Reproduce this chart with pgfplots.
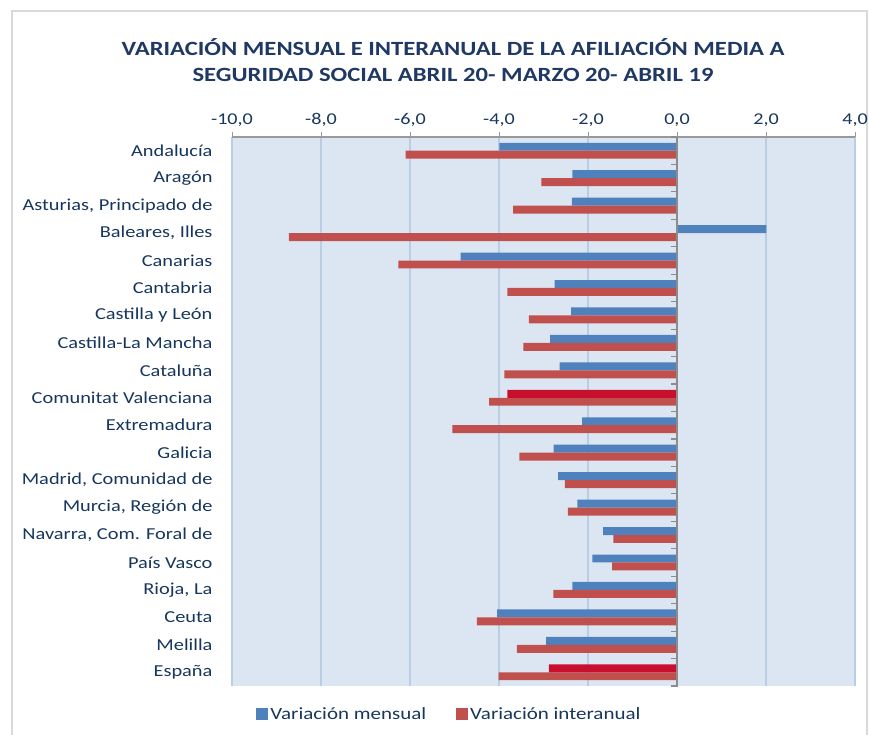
\documentclass[border=0pt]{standalone}
\usepackage{pgfplots}
\pgfplotsset{compat=1.18}
\usepackage{fontspec}
\setmainfont{Carlito}[FakeStretch=1.22]
\definecolor{mblue}{HTML}{4F81BD}
\definecolor{mred}{HTML}{C0504D}
\definecolor{mcrim}{HTML}{C8102E}
\definecolor{bg}{HTML}{DCE6F2}
\definecolor{gridc}{HTML}{B9CDE5}
\definecolor{navy}{HTML}{1F3864}
\definecolor{txt}{HTML}{17365D}
\pgfplotstableread{
y blue red
19 -3.99 -6.10
18 -2.35 -3.05
17 -2.36 -3.68
16 2.01 -8.72
15 -4.86 -6.26
14 -2.75 -3.81
13 -2.38 -3.33
12 -2.85 -3.45
11 -2.64 -3.88
9 -2.13 -5.05
8 -2.77 -3.54
7 -2.67 -2.52
6 -2.24 -2.45
5 -1.66 -1.43
4 -1.90 -1.46
3 -2.35 -2.78
2 -4.04 -4.50
1 -2.94 -3.60
}\datatab
\pgfplotstableread{
y red
10 -4.22
0 -4.01
}\datared
\pgfplotstableread{
y crim
10 -3.81
0 -2.88
}\datacrim
\begin{document}
\begin{tikzpicture}
\useasboundingbox (0pt,0pt) rectangle (869pt,-735pt);
\draw[black!15, line width=1.5pt] (12pt,-735pt) -- (12pt,-11pt) -- (867pt,-11pt) -- (867pt,-735pt);
\node[align=center, font=\bfseries\fontsize{20.2}{26}\selectfont, text=navy] at (453pt,-60pt)
 {VARIACIÓN MENSUAL E INTERANUAL DE LA AFILIACIÓN MEDIA A\\SEGURIDAD SOCIAL ABRIL 20- MARZO 20- ABRIL 19};
\begin{axis}[
  at={(232pt,-137pt)}, anchor=north west,
  scale only axis, width=623pt, height=549pt,
  xbar, bar width=0.29,
  xmin=-10, xmax=4, ymin=-0.5, ymax=19.5,
  axis x line*=top, axis y line*=left,
  y axis line style={draw=none},
  x axis line style={draw=black!40, line width=1.2pt},
  xtick={-10,-8,...,4},
  tick align=outside,
  x tick style={draw=black!40, line width=1pt},
  major tick length=5pt,
  xticklabel={\pgfmathprintnumber[fixed,fixed zerofill,precision=1,use comma,assume math mode=true]{\tick}},
  xticklabel style={font=\fontsize{16.5}{18}\selectfont, text=txt, yshift=2pt},
  ytick={0,...,19},
  yticklabels={España,Melilla,Ceuta,{Rioja, La},País Vasco,{Navarra, Com. Foral de},{Murcia, Región de},{Madrid, Comunidad de},Galicia,Extremadura,Comunitat Valenciana,Cataluña,Castilla-La Mancha,Castilla y León,Cantabria,Canarias,{Baleares, Illes},{Asturias, Principado de},Aragón,Andalucía},
  y tick style={draw=none},
  yticklabel style={font=\fontsize{16.7}{18}\selectfont, text=txt, anchor=east, xshift=-11pt},
  xmajorgrids, grid style={gridc, line width=1.2pt},
  axis background/.style={fill=bg},
  legend style={at={(axis description cs:0.349,-0.051)}, anchor=center, draw=none, fill=none,
    font=\fontsize{17.2}{18}\selectfont, text=txt,
    /tikz/every even column/.append style={column sep=28pt}},
  legend columns=2,
  legend cell align=left,
  legend image code/.code={\fill[#1] (0pt,-5.5pt) rectangle (12pt,6.5pt);},
]
\addplot[fill=mblue, draw=none, bar shift=0.145] table[x=blue, y=y] {\datatab};
\addlegendentry{Variación mensual}
\addplot[fill=mred, draw=none, bar shift=-0.145] table[x=red, y=y] {\datatab};
\addlegendentry{Variación interanual}
\addplot[fill=mred, draw=none, bar shift=-0.145, forget plot] table[x=red, y=y] {\datared};
\addplot[fill=mcrim, draw=none, bar shift=0.145, forget plot] table[x=crim, y=y] {\datacrim};
\draw[black!45, line width=1.5pt] (axis cs:0,-0.5) -- ++(0pt,-4pt);
\draw[black!45, line width=1.5pt] (axis cs:0,-0.5) -- (axis cs:0,19.5);
\pgfplotsinvokeforeach{-0.5,0.5,...,19.5}{\draw[black!45, line width=1.2pt] (axis cs:0,#1) -- ++(-6pt,0pt);}
\end{axis}
\end{tikzpicture}
\end{document}
